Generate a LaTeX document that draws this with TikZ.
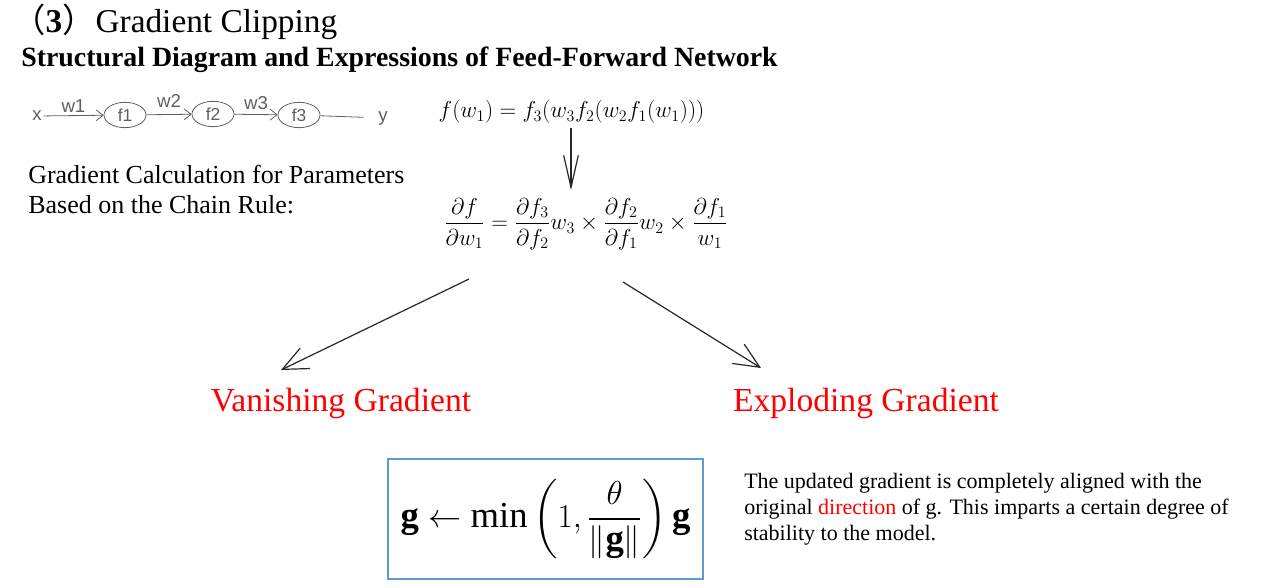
\documentclass[tikz,border=0pt]{standalone}
\usepackage{amsmath}
\usepackage{fontspec}
\setmainfont{Liberation Serif}
\newfontfamily\handfont{Liberation Sans}
\newfontfamily\cjk{Noto Sans CJK SC}
\usetikzlibrary{arrows.meta,shapes.geometric}

\definecolor{pencil}{RGB}{95,95,95}
\definecolor{boxblue}{RGB}{95,155,210}

\tikzset{
  hand/.style={font=\handfont\fontsize{14}{16}\selectfont, text=pencil, inner sep=1pt},
  neuron/.style={ellipse, draw=pencil, line width=0.6pt, minimum width=31.5pt, minimum height=19pt, inner sep=0pt, font=\handfont\fontsize{13}{15}\selectfont, text=pencil},
  wire/.style={draw=pencil, line width=0.6pt, -{Straight Barb[length=5pt,width=8pt]}},
  barb/.style={line width=0.9pt, black!85, -{Straight Barb[length=19pt,width=17pt]}},
  redlabel/.style={text=red, font=\fontsize{25.2}{29}\selectfont}
}

\begin{document}
\begin{tikzpicture}[x=0.75pt,y=-0.75pt]
\useasboundingbox (0,0) rectangle (1269,587);

\node[anchor=west, font=\fontsize{25}{29}\selectfont, inner sep=0pt] (title) at (12,22) {{\cjk （}\textbf{3}{\cjk ）}Gradient Clipping};
\node[anchor=west, font=\bfseries\fontsize{20.9}{24}\selectfont, inner sep=0pt] (subtitle) at (21,60) {Structural Diagram and Expressions of Feed-Forward Network};

\node[hand] (x) at (37,116) {x};
\node[neuron] (f1) at (125,115) {f1};
\node[neuron] (f2) at (213,114) {f2};
\node[neuron] (f3) at (299,115) {f3};
\node[hand] (y) at (383,118) {y};
\draw[wire] (x) -- node[hand, above=1pt] {w1} (f1);
\draw[wire] (f1) -- node[hand, above=4pt] {w2} (f2);
\draw[wire] (f2) -- node[hand, above=2pt] {w3} (f3);
\draw[draw=pencil, line width=0.6pt, shorten >=10pt] (f3) -- (y);

\node[anchor=west, font=\fontsize{17.2}{20}\selectfont] (fw) at (434,112) {$f(w_1)=f_3(w_3f_2(w_2f_1(w_1)))$};

\node[anchor=north west, align=left, inner sep=0pt, font=\fontsize{19.5}{22.5}\selectfont] (calc) at (28,165) {Gradient Calculation for Parameters\\Based on the Chain Rule:};

\node[font=\fontsize{16.6}{19}\selectfont] (chain) at (586,224) {$\dfrac{\partial f}{\partial w_1}=\dfrac{\partial f_3}{\partial f_2}w_3\times\dfrac{\partial f_2}{\partial f_1}w_2\times\dfrac{\partial f_1}{w_1}$};

\coordinate (dto) at (571,190);
\draw[line width=0.9pt, black!85, -{Straight Barb[length=24pt,width=11pt]}] (fw.south -| dto) -- (dto);

\coordinate (vfrom) at (469,279);
\coordinate (vto) at (281,370);
\coordinate (efrom) at (623,282);
\coordinate (eto) at (761,368);
\draw[barb] (vfrom) -- (vto);
\draw[barb] (efrom) -- (eto);

\node[redlabel] (vanish) at (341,403) {Vanishing Gradient};
\node[redlabel] (explode) at (866,403) {Exploding Gradient};

\node[draw=boxblue, line width=1.1pt, minimum width=236pt, minimum height=90pt, font=\fontsize{27.5}{32}\selectfont] (clip) at (545.5,519) {$\mathbf{g}\leftarrow\min\left(1,\dfrac{\theta}{\|\mathbf{g}\|}\right)\mathbf{g}$};

\node[anchor=north west, align=left, inner sep=0pt, font=\fontsize{16.5}{19.5}\selectfont] (note) at (744,473) {The updated gradient is completely aligned with the\\original \textcolor{red}{direction} of g. This imparts a certain degree of\\stability to the model.};
\end{tikzpicture}
\end{document}
